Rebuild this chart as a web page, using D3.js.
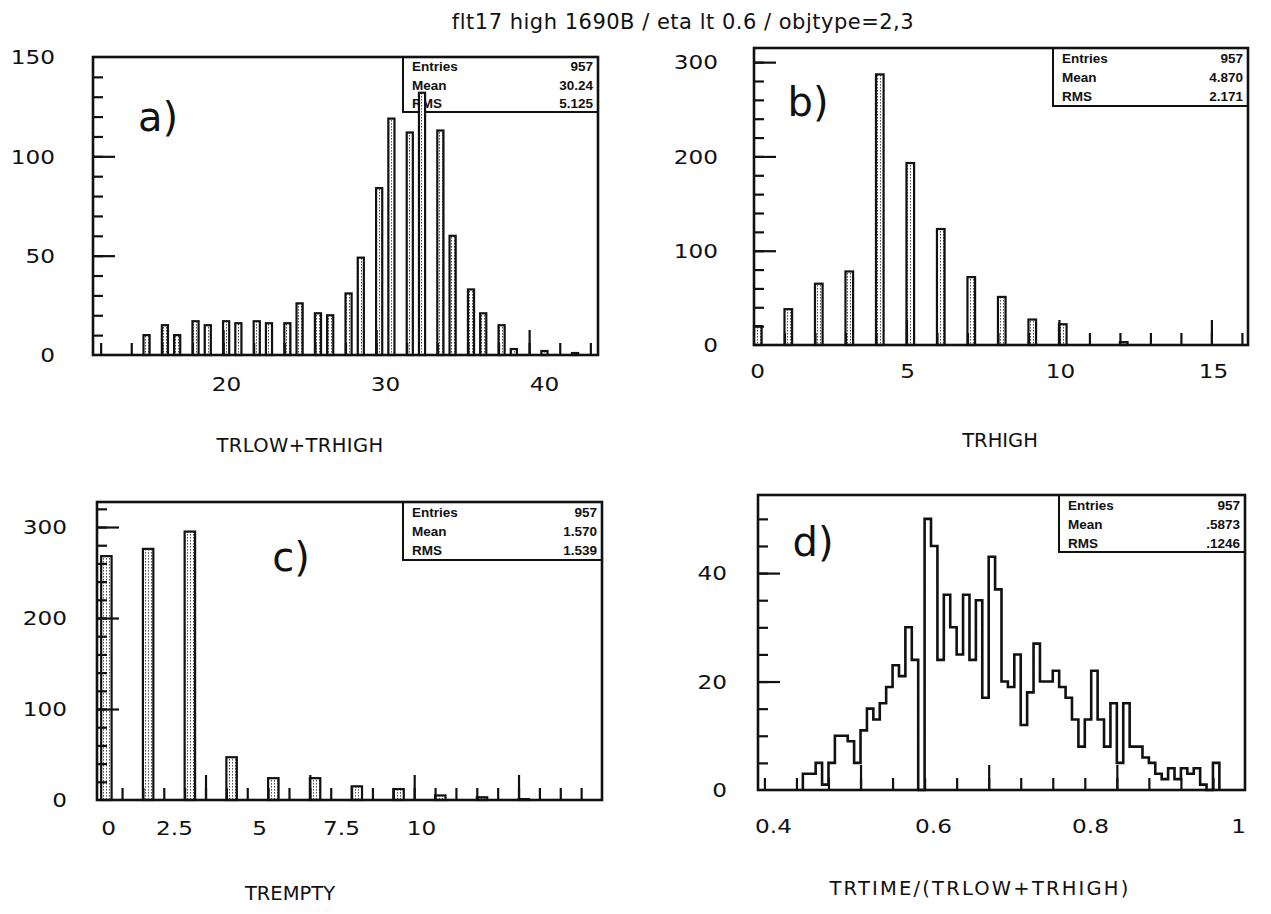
<!DOCTYPE html>
<html><head><meta charset="utf-8">
<script src="https://cdn.jsdelivr.net/npm/d3@7"></script>
<style>body{margin:0;background:#fff}svg{display:block}</style>
</head><body>
<svg id="chart" width="1271" height="914"></svg>
<script>
// ---------- data ----------
const titleText = "flt17 high 1690B / eta lt 0.6 / objtype=2,3";

// a) TRLOW+TRHIGH, integer values and their counts
const aValues = [15,16,17,18,19,20,21,22,23,24,25,26,27,28,29,30,31,32,33,34,35,36,37,38,39,41,43];
const aCounts = [10,15,10,17,15,17,16,17,16,16,26,21,20,31,49,84,119,112,132,113,60,33,21,15,3,2,1];
const aStats  = ["957","30.24","5.125"];

// b) TRHIGH
const bValues = [0,1,2,3,4,5,6,7,8,9,10,12];
const bCounts = [20,38,65,78,287,193,123,72,51,27,22,3];
const bStats  = ["957","4.870","2.171"];

// c) TREMPTY
const cValues = [0,1,2,3,4,5,6,7,8,9,10];
const cCounts = [268,276,295,47,24,24,15,12,5,3,1];
const cStats  = ["957","1.570","1.539"];

// d) TRTIME/(TRLOW+TRHIGH): contents of 0.01-wide bins starting at 0.30
const dLow = 0.30;
const dBinW = 0.01;
const dCounts = [0,3,3,5,1,5,10,10,9,5,11,15,13,16,19,23,21,30,24,0,
                 50,45,24,36,30,25,36,24,35,17,43,37,20,19,25,12,18,27,20,20,
                 22,19,17,13,8,13,22,13,8,16,5,16,8,8,6,5,3,2,4,2,
                 4,3,4,1,0,5];
const dStats  = ["957",".5873",".1246"];

const statNames = ["Entries","Mean","RMS"];

// ---------- drawing ----------
const svg = d3.select("#chart");
svg.append("rect").attr("width",1271).attr("height",914).attr("fill","#fff");

const LETTER = "DejaVu Sans, sans-serif";
const STATF = "Liberation Sans, Arial, sans-serif";
const INK = "#111";
const WIDE = "scale(1.22,1)";

svg.append("text").attr("x",683).attr("y",29).attr("text-anchor","middle")
  .attr("font-family",LETTER).attr("font-size",21).attr("letter-spacing",0.5)
  .attr("fill",INK).text(titleText);

const defs = svg.append("defs");
const pat = defs.append("pattern").attr("id","stip").attr("patternUnits","userSpaceOnUse")
  .attr("width",3).attr("height",3);
pat.append("rect").attr("width",3).attr("height",3).attr("fill","#fff");
pat.append("rect").attr("x",1).attr("y",0).attr("width",1).attr("height",1.6).attr("fill","#555");

const panels = [
  { key:"a", box:[93,598,57,355], xd:[11.5,44.5], yd:[0,150], binW:0.4, binO:0,
    values:aValues, counts:aCounts, stats:aStats, statBox:[403,112],
    yMinor:d3.range(10,150,10), yMajor:[50,100],
    xMinor:d3.range(12,45,2), xMajor:[20,30,40],
    yLetters:[0,50,100,150], yLetterX:55,
    xLetters:[20,30,40], xLetterPx:[226,385,544], xLetterY:391,
    title:"TRLOW+TRHIGH", titleXY:[300,452], titleSp:0.4, tag:"a)", tagXY:[158,131] },
  { key:"b", box:[754,1248,48,345], xd:[0,16.2], yd:[0,315], binW:0.25, binO:0,
    values:bValues, counts:bCounts, stats:bStats, statBox:[1053,106],
    yMinor:d3.range(20,315,20), yMajor:[100,200,300],
    xMinor:d3.range(1,17,1), xMajor:[5,10,15],
    yLetters:[0,100,200,300], yLetterX:718,
    xLetters:[0,5,10,15], xLetterPx:[757,907,1060,1213], xLetterY:378,
    title:"TRHIGH", titleXY:[1000,447], titleSp:0, tag:"b)", tagXY:[808,116] },
  { key:"c", box:[97,602,502,800], xd:[-0.1,12], yd:[0,327.5], binW:0.25, binO:0,
    values:cValues, counts:cCounts, stats:cStats, statBox:[403,560],
    yMinor:d3.range(20,327,20), yMajor:[100,200,300],
    xMinor:d3.range(0.5,12,0.5), xMajor:[2.5,5,7.5,10],
    yLetters:[0,100,200,300], yLetterX:67,
    xLetters:[0,2.5,5,7.5,10], xLetterPx:[108,174,259,341,421], xLetterY:835,
    title:"TREMPTY", titleXY:[290,900], titleSp:0, tag:"c)", tagXY:[291,571] },
  { key:"d", box:[758,1245,495,790], xd:[0.24,1.0], yd:[0,54.4],
    hist:dCounts, histLow:dLow, histW:dBinW, stats:dStats, statBox:[1059,552],
    yMinor:d3.range(5,55,5), yMajor:[20,40],
    xMinor:d3.range(0.25,1.0,0.05), xMajor:[0.4,0.6,0.8],
    yLetters:[0,20,40], yLetterX:727,
    xLetters:[0.4,0.6,0.8,1], xLetterPx:[773,933,1090,1238], xLetterY:833,
    title:"TRTIME/(TRLOW+TRHIGH)", titleXY:[980,895], titleSp:2.2, tag:"d)", tagXY:[813,556] }
];

// fill integer-valued entries into fixed-width bins starting at binO
function binned(values, counts, w, o){
  const m = new Map();
  values.forEach((v,i)=>{
    const k = Math.floor((v-o)/w + 1e-7);
    m.set(k,(m.get(k)||0)+counts[i]);
  });
  return Array.from(m,([k,n])=>({x0:o+k*w, x1:o+(k+1)*w, n}));
}

panels.forEach(p=>{
  const [L,R,T,B] = p.box;
  const x = d3.scaleLinear().domain(p.xd).range([L,R]);
  const y = d3.scaleLinear().domain(p.yd).range([B,T]);
  const g = svg.append("g").attr("class","panel-"+p.key);

  // statistics box
  const sb = g.append("g");
  sb.append("rect").attr("x",p.statBox[0]).attr("y",T).attr("width",R-p.statBox[0])
    .attr("height",p.statBox[1]-T).attr("fill","#fff").attr("stroke",INK).attr("stroke-width",2);
  const rowH = (p.statBox[1]-T)/3;
  statNames.forEach((s,i)=>{
    const yy = T + rowH*(i+0.5) + 5;
    sb.append("text").attr("x",p.statBox[0]+9).attr("y",yy).attr("font-family",STATF)
      .attr("font-weight","bold").attr("font-size",13.5).attr("fill",INK).text(s);
    sb.append("text").attr("x",R-5).attr("y",yy).attr("text-anchor","end").attr("font-family",STATF)
      .attr("font-weight","bold").attr("font-size",13.5).attr("fill",INK).text(p.stats[i]);
  });

  // histogram
  if (p.hist){
    const steps = [];
    p.hist.forEach((n,k)=>{
      const x0 = p.histLow + k*p.histW;
      steps.push([x0,n],[x0+p.histW,n]);
    });
    const first = steps.findIndex(d=>d[1]>0);
    const last = steps.length-1-[...steps].reverse().findIndex(d=>d[1]>0);
    const seg = [[steps[first][0],0], ...steps.slice(first,last+1), [steps[last][0],0]];
    g.append("path").attr("d", d3.line().x(d=>x(d[0])).y(d=>y(d[1]))(seg))
      .attr("fill","none").attr("stroke",INK).attr("stroke-width",2.6).attr("stroke-linejoin","miter");
  } else {
    const bins = binned(p.values,p.counts,p.binW,p.binO);
    g.selectAll("rect.bar").data(bins).join("rect").attr("class","bar")
      .attr("x",d=>x(d.x0)).attr("width",d=>x(d.x1)-x(d.x0))
      .attr("y",d=>y(d.n)).attr("height",d=>y(0)-y(d.n))
      .attr("fill","url(#stip)").attr("stroke",INK).attr("stroke-width",2.2);
  }

  // frame
  g.append("rect").attr("x",L).attr("y",T).attr("width",R-L).attr("height",B-T)
    .attr("fill","none").attr("stroke",INK).attr("stroke-width",2.6);

  // inward ticks
  const tick = (axis, tr) => g.append("g").attr("transform",tr).call(axis)
    .call(s=>s.select(".domain").remove())
    .call(s=>s.selectAll("line").attr("stroke",INK).attr("stroke-width",2.2));
  tick(d3.axisRight(y).tickValues(p.yMinor).tickSize(10).tickFormat(""), `translate(${L},0)`);
  tick(d3.axisRight(y).tickValues(p.yMajor).tickSize(22).tickFormat(""), `translate(${L},0)`);
  tick(d3.axisTop(x).tickValues(p.xMinor).tickSize(12).tickFormat(""), `translate(0,${B})`);
  tick(d3.axisTop(x).tickValues(p.xMajor).tickSize(25).tickFormat(""), `translate(0,${B})`);

  // lettering
  const yl = g.append("g").attr("transform",`translate(${p.yLetterX},0)`)
    .call(d3.axisLeft(y).tickValues(p.yLetters).tickSize(0).tickPadding(0).tickFormat(d3.format("d")));
  yl.select(".domain").remove();
  yl.selectAll("text").attr("font-family",LETTER).attr("font-size",19).attr("fill",INK)
    .attr("dy","0.36em").attr("transform",WIDE);

  const lx = d3.scaleLinear().domain(p.xLetters).range(p.xLetterPx);
  const xl = g.append("g").attr("transform",`translate(0,${p.xLetterY})`)
    .call(d3.axisBottom(lx).tickValues(p.xLetters).tickSize(0).tickPadding(0).tickFormat(d=>String(d)));
  xl.select(".domain").remove();
  xl.selectAll("text").attr("font-family",LETTER).attr("font-size",19).attr("fill",INK)
    .attr("dy","0").attr("transform",WIDE);

  g.append("text").attr("x",p.titleXY[0]).attr("y",p.titleXY[1]).attr("text-anchor","middle")
    .attr("font-family",LETTER).attr("font-size",19.5).attr("letter-spacing",p.titleSp)
    .attr("fill",INK).text(p.title);
  g.append("text").attr("x",p.tagXY[0]).attr("y",p.tagXY[1]).attr("text-anchor","middle")
    .attr("font-family",LETTER).attr("font-size",40).attr("fill",INK).text(p.tag);
});
</script>
</body></html>
